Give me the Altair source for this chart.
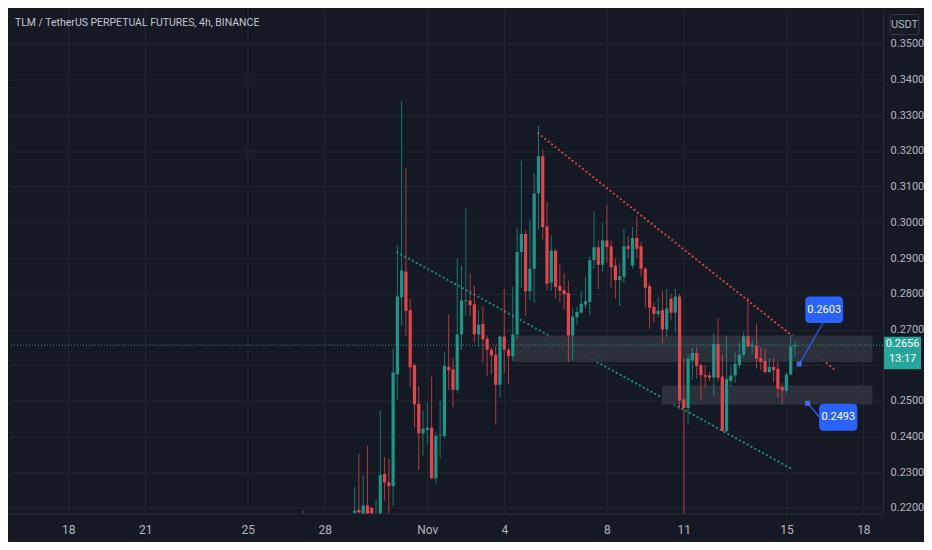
import altair as alt
import pandas as pd

# ---------------- data (4h candles, index relative to Nov 1 00:00) ----------------
first_index = -29
opens = [0.2160, 0.2180, 0.2165, 0.2170, 0.2160, 0.2168, 0.2155, 0.2162, 0.2158, 0.2165, 0.2170, 0.2175,
         0.2186, 0.2195, 0.2170, 0.2207, 0.2200, 0.2165, 0.2170, 0.2295, 0.2272, 0.2261, 0.2574, 0.2790,
         0.2862, 0.2754, 0.2600, 0.2492, 0.2409, 0.2418, 0.2425, 0.2283, 0.2402, 0.2402, 0.2595, 0.2588,
         0.2531, 0.2686, 0.2779, 0.2781, 0.2770, 0.2686, 0.2715, 0.2674, 0.2643, 0.2629, 0.2545, 0.2680,
         0.2643, 0.2625, 0.2686, 0.2917, 0.2967, 0.2807, 0.2870, 0.3081, 0.3185, 0.2988, 0.2831, 0.2920,
         0.2822, 0.2810, 0.2802, 0.2683, 0.2734, 0.2747, 0.2770, 0.2777, 0.2894, 0.2930, 0.2881, 0.2949,
         0.2933, 0.2879, 0.2838, 0.2847, 0.2933, 0.2879, 0.2956, 0.2933, 0.2870, 0.2821, 0.2763, 0.2743,
         0.2754, 0.2700, 0.2786, 0.2747, 0.2792, 0.2504, 0.2480, 0.2613, 0.2634, 0.2600, 0.2572, 0.2571,
         0.2565, 0.2659, 0.2568, 0.2416, 0.2556, 0.2571, 0.2600, 0.2629, 0.2681, 0.2652, 0.2654, 0.2620,
         0.2612, 0.2581, 0.2595, 0.2590, 0.2538, 0.2529, 0.2574, 0.2652]
highs = [0.2192, 0.2183, 0.2178, 0.2176, 0.2175, 0.2172, 0.2170, 0.2170, 0.2175, 0.2180, 0.2182, 0.2183,
         0.2259, 0.2350, 0.2291, 0.2374, 0.2205, 0.2223, 0.2474, 0.2343, 0.2338, 0.2647, 0.2936, 0.3340,
         0.3152, 0.2786, 0.2604, 0.2541, 0.2473, 0.2495, 0.2568, 0.2413, 0.2500, 0.2636, 0.2742, 0.2620,
         0.2898, 0.2879, 0.3040, 0.2858, 0.2822, 0.2754, 0.2765, 0.2683, 0.2650, 0.2654, 0.2683, 0.2813,
         0.2650, 0.2819, 0.2986, 0.3174, 0.2977, 0.3010, 0.3137, 0.3270, 0.3204, 0.3058, 0.2963, 0.2925,
         0.2883, 0.2858, 0.2836, 0.2759, 0.2763, 0.2807, 0.2847, 0.2904, 0.3031, 0.2949, 0.2997, 0.3049,
         0.2949, 0.2900, 0.2886, 0.2981, 0.2960, 0.2986, 0.3017, 0.2945, 0.2875, 0.2830, 0.2775, 0.2790,
         0.2807, 0.2813, 0.2800, 0.2813, 0.2799, 0.2620, 0.2631, 0.2650, 0.2650, 0.2605, 0.2600, 0.2580,
         0.2690, 0.2731, 0.2630, 0.2683, 0.2600, 0.2636, 0.2663, 0.2692, 0.2790, 0.2670, 0.2716, 0.2650,
         0.2645, 0.2620, 0.2620, 0.2610, 0.2550, 0.2580, 0.2683, 0.2668]
lows = [0.2140, 0.2150, 0.2150, 0.2145, 0.2150, 0.2140, 0.2145, 0.2148, 0.2150, 0.2155, 0.2160, 0.2165,
        0.2150, 0.2150, 0.2140, 0.2150, 0.2160, 0.2150, 0.2160, 0.2220, 0.2180, 0.2207, 0.2504, 0.2710,
        0.2681, 0.2538, 0.2425, 0.2306, 0.2347, 0.2377, 0.2280, 0.2268, 0.2341, 0.2395, 0.2531, 0.2482,
        0.2522, 0.2643, 0.2738, 0.2738, 0.2663, 0.2650, 0.2607, 0.2571, 0.2574, 0.2434, 0.2509, 0.2577,
        0.2547, 0.2613, 0.2672, 0.2817, 0.2738, 0.2781, 0.2774, 0.2981, 0.2952, 0.2810, 0.2808, 0.2786,
        0.2777, 0.2754, 0.2609, 0.2613, 0.2713, 0.2745, 0.2759, 0.2740, 0.2870, 0.2813, 0.2861, 0.2886,
        0.2817, 0.2786, 0.2765, 0.2831, 0.2900, 0.2870, 0.2900, 0.2849, 0.2762, 0.2701, 0.2718, 0.2735,
        0.2661, 0.2677, 0.2725, 0.2689, 0.2477, 0.2150, 0.2434, 0.2559, 0.2563, 0.2501, 0.2536, 0.2555,
        0.2513, 0.2552, 0.2413, 0.2413, 0.2540, 0.2550, 0.2590, 0.2620, 0.2650, 0.2630, 0.2590, 0.2585,
        0.2577, 0.2577, 0.2552, 0.2509, 0.2490, 0.2520, 0.2572, 0.2622]
closes = [0.2180, 0.2165, 0.2170, 0.2160, 0.2168, 0.2155, 0.2162, 0.2158, 0.2165, 0.2170, 0.2175, 0.2180,
          0.2192, 0.2188, 0.2207, 0.2175, 0.2180, 0.2180, 0.2293, 0.2271, 0.2261, 0.2580, 0.2792, 0.2865,
          0.2752, 0.2594, 0.2490, 0.2409, 0.2422, 0.2425, 0.2283, 0.2402, 0.2404, 0.2598, 0.2586, 0.2531,
          0.2686, 0.2781, 0.2781, 0.2768, 0.2686, 0.2713, 0.2672, 0.2643, 0.2627, 0.2545, 0.2680, 0.2643,
          0.2625, 0.2686, 0.2917, 0.2967, 0.2807, 0.2870, 0.3081, 0.3185, 0.2986, 0.2828, 0.2920, 0.2819,
          0.2808, 0.2799, 0.2683, 0.2736, 0.2749, 0.2772, 0.2779, 0.2894, 0.2930, 0.2881, 0.2949, 0.2931,
          0.2874, 0.2838, 0.2849, 0.2933, 0.2926, 0.2956, 0.2926, 0.2870, 0.2817, 0.2761, 0.2743, 0.2752,
          0.2700, 0.2759, 0.2747, 0.2792, 0.2501, 0.2480, 0.2618, 0.2634, 0.2598, 0.2572, 0.2567, 0.2565,
          0.2659, 0.2565, 0.2416, 0.2561, 0.2571, 0.2604, 0.2629, 0.2681, 0.2652, 0.2656, 0.2618, 0.2609,
          0.2581, 0.2595, 0.2586, 0.2534, 0.2529, 0.2574, 0.2652, 0.2656]

# time axis ticks (days relative to Nov 1) and their labels
tick_days = [-14, -11, -7, -4, 0, 3, 7, 10, 14, 17]
tick_labels = ["18", "21", "25", "28", "Nov", "4", "8", "11", "15", "18"]
price_ticks = [0.22, 0.23, 0.24, 0.25, 0.26, 0.27, 0.28, 0.29, 0.30, 0.31, 0.32, 0.33, 0.34, 0.35]

# drawings
trend_name = ["down", "up"]
trend_day = [4.326, -1.166]
trend_day2 = [15.871, 14.27]
trend_price = [0.3249, 0.2916]
trend_price2 = [0.2588, 0.2307]

zone_day = [3.316, 9.145]
zone_day2 = [17.35, 17.35]
zone_lo = [0.2609, 0.2490]
zone_hi = [0.2683, 0.2543]

call_text = ["0.2603", "0.2493"]
call_mark_day = [14.497, 14.83]
call_mark_price = [0.2603, 0.2493]
call_box_day = [14.735, 15.276]
call_box_day2 = [16.212, 16.767]
call_box_lo = [0.2718, 0.2416]
call_box_hi = [0.2792, 0.2492]
call_anchor_day = [15.428, 15.30]
call_anchor_price = [0.2718, 0.2454]

last_price = 0.2656
countdown = "13:17"
title_text = "TLM / TetherUS PERPETUAL FUTURES, 4h, BINANCE"

# ---------------- style ----------------
W, H = 876, 506
X_DOMAIN = [-16.113, 17.574]
Y_DOMAIN = [0.21845, 0.35986]
BG = "#151924"
GRID = "#222631"
SEP = "#2a2e39"
TEXT = "#b2b5be"
UP = "#26a69a"
DOWN = "#ef5350"
BLUE = "#2962ff"
FONT = "Roboto, sans-serif"

n = len(opens)
candles = pd.DataFrame({
    "day": [(first_index + k) * 4 / 24 for k in range(n)],
    "open": opens, "high": highs, "low": lows, "close": closes,
})
candles["dir"] = ["up" if c >= o else "down" for o, c in zip(opens, closes)]

x_expr = "''"
for d, lab in reversed(list(zip(tick_days, tick_labels))):
    x_expr = f"datum.value == {d} ? '{lab}' : " + x_expr

xscale = alt.Scale(domain=X_DOMAIN, nice=False, zero=False)
yscale = alt.Scale(domain=Y_DOMAIN, nice=False, zero=False)
xaxis = alt.Axis(values=tick_days, labelExpr=x_expr, grid=True, gridColor=GRID, domain=True,
                 domainColor=SEP, ticks=False, tickSize=0, labelPadding=11, labelFont=FONT,
                 labelFontSize=12, labelColor=TEXT, minExtent=28, maxExtent=28, title=None,
                 labelFlush=False)
yaxis = alt.Axis(orient="right", values=price_ticks,
                 labelExpr="abs(datum.value - 0.26) < 0.0001 ? '' : format(datum.value, '.4f')",
                 grid=True, gridColor=GRID, domain=True, domainColor=SEP, ticks=False, tickSize=0,
                 labelPadding=7, labelFont=FONT, labelFontSize=11, labelColor=TEXT,
                 minExtent=40, maxExtent=40, title=None)


def X(f):
    return alt.X(f"{f}:Q", scale=xscale, axis=xaxis, title=None)


def Y(f):
    return alt.Y(f"{f}:Q", scale=yscale, axis=yaxis, title=None)


color = alt.Color("dir:N", scale=alt.Scale(domain=["up", "down"], range=[UP, DOWN]), legend=None)

base = alt.Chart(candles)

trend_df = pd.DataFrame({"name": trend_name, "d1": trend_day, "d2": trend_day2,
                         "p1": trend_price, "p2": trend_price2})
trends = alt.Chart(trend_df).mark_rule(strokeWidth=2.2, strokeDash=[0.1, 4.3], strokeCap="round",
                                       clip=True, opacity=0.9).encode(
    x=X("d1"), x2="d2:Q", y=Y("p1"), y2="p2:Q",
    color=alt.Color("name:N", scale=alt.Scale(domain=["down", "up"], range=["#e0464b", "#1f9487"]),
                    legend=None))

zone_df = pd.DataFrame({"d1": zone_day, "d2": zone_day2, "lo": zone_lo, "hi": zone_hi})
zones = alt.Chart(zone_df).mark_rect(color="#2f333e", opacity=0.9, clip=True).encode(
    x=X("d1"), x2="d2:Q", y=Y("lo"), y2="hi:Q")

wicks = base.mark_rule(strokeWidth=1, opacity=0.75, clip=True).encode(
    x=X("day"), y=Y("low"), y2="high:Q", color=color)
bodies = base.mark_bar(size=3.2, clip=True).encode(
    x=X("day"), y=Y("open"), y2="close:Q", color=color)

last_df = pd.DataFrame({"p": [last_price], "top": [0.26796], "bot": [0.25886],
                        "lab": [f"{last_price:.4f}"], "cd": [countdown]})
last_line = alt.Chart(last_df).mark_rule(color=UP, strokeWidth=1, strokeDash=[1, 2]).encode(y=Y("p"))

call_df = pd.DataFrame({"text": call_text, "md": call_mark_day, "mp": call_mark_price,
                        "bd1": call_box_day, "bd2": call_box_day2, "blo": call_box_lo, "bhi": call_box_hi,
                        "ad": call_anchor_day, "ap": call_anchor_price,
                        "cd": [(a + b) / 2 for a, b in zip(call_box_day, call_box_day2)],
                        "cp": [(a + b) / 2 for a, b in zip(call_box_lo, call_box_hi)]})
call_lines = alt.Chart(call_df).mark_rule(color=BLUE, strokeWidth=1.2).encode(
    x=X("md"), x2="ad:Q", y=Y("mp"), y2="ap:Q")
call_marks = alt.Chart(call_df).mark_square(size=16, color=BLUE, opacity=1, stroke="#6f93ff",
                                            strokeWidth=0.6).encode(x=X("md"), y=Y("mp"))
call_boxes = alt.Chart(call_df).mark_rect(color=BLUE, cornerRadius=4).encode(
    x=X("bd1"), x2="bd2:Q", y=Y("blo"), y2="bhi:Q")
call_texts = alt.Chart(call_df).mark_text(color="white", font=FONT, fontSize=11).encode(
    x=X("cd"), y=Y("cp"), text="text:N")

price_box = alt.Chart(last_df).mark_rect(color=UP).encode(
    x=alt.value(W + 1), x2=alt.value(W + 38), y=Y("top"), y2="bot:Q")
price_txt = alt.Chart(last_df).mark_text(color="white", font=FONT, fontSize=11, align="center",
                                         dy=-1).encode(x=alt.value(W + 19.5), y=Y("p"), text="lab:N")
cd_txt = alt.Chart(last_df).mark_text(color="white", font=FONT, fontSize=11, align="center",
                                      dy=14).encode(x=alt.value(W + 19.5), y=Y("p"), text="cd:N")

misc_df = pd.DataFrame({"title": [title_text], "unit": ["USDT"]})
title = alt.Chart(misc_df).mark_text(align="left", baseline="middle", font=FONT, fontSize=10.5,
                                     color="#c3c6ce").encode(x=alt.value(6), y=alt.value(14),
                                                             text="title:N")
unit_box = alt.Chart(misc_df).mark_rect(fill=BG, stroke="#363a45", strokeWidth=1, cornerRadius=3).encode(
    x=alt.value(W + 7), x2=alt.value(W + 36), y=alt.value(6), y2=alt.value(26))
unit_txt = alt.Chart(misc_df).mark_text(align="center", baseline="middle", font=FONT, fontSize=11,
                                        color=TEXT).encode(x=alt.value(W + 21.5), y=alt.value(16), text="unit:N")

chart = alt.layer(
    trends, zones, wicks, bodies, last_line, call_lines, call_marks, call_boxes, call_texts,
    price_box, price_txt, cd_txt, title, unit_box, unit_txt
).properties(width=W, height=H, padding=0, background=BG).configure_view(stroke=None)

chart.save("out.html", embed_options={"renderer": "svg", "actions": False})
